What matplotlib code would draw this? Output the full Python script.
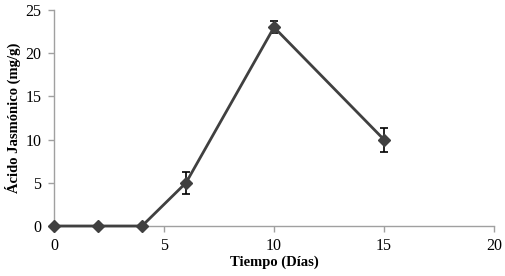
import matplotlib
matplotlib.use("Agg")
import matplotlib.pyplot as plt

dias = [0, 2, 4, 6, 10, 15]
acido = [0, 0, 0, 5.0, 23.0, 10.0]
error = [0, 0, 0, 1.3, 0.7, 1.4]

plt.rcParams['font.family'] = ['Liberation Serif']

fig = plt.figure(figsize=(5.06, 2.76), dpi=100)
ax = fig.add_axes([54/506, 50/276, 440/506, 216/276])

ax.errorbar(dias, acido, yerr=error, color='#404040', lw=2, marker='D', ms=6.5,
            mfc='#404040', mec='#404040', ecolor='black', elinewidth=1.2, capsize=3, capthick=1.2,
            clip_on=False, zorder=3)

ax.set_xlim(0, 20)
ax.set_ylim(0, 25)
ax.set_xticks([0, 5, 10, 15, 20])
ax.set_yticks([0, 5, 10, 15, 20, 25])
for s in ['top', 'right']:
    ax.spines[s].set_visible(False)
for s in ['left', 'bottom']:
    ax.spines[s].set_color('#a0a0a0')
    ax.spines[s].set_linewidth(1)
ax.tick_params(axis='both', colors='#a0a0a0', labelcolor='black', labelsize=11.5, length=4, width=1)
ax.tick_params(axis='x', pad=5)
ax.tick_params(axis='y', pad=5)
ax.set_xlabel('Tiempo (Días)', fontsize=10.5, fontweight='bold', labelpad=1)
ax.set_ylabel('Ácido Jasmónico (mg/g)', fontsize=10.5, fontweight='bold', labelpad=3)

fig.savefig('out.png', dpi=100)
